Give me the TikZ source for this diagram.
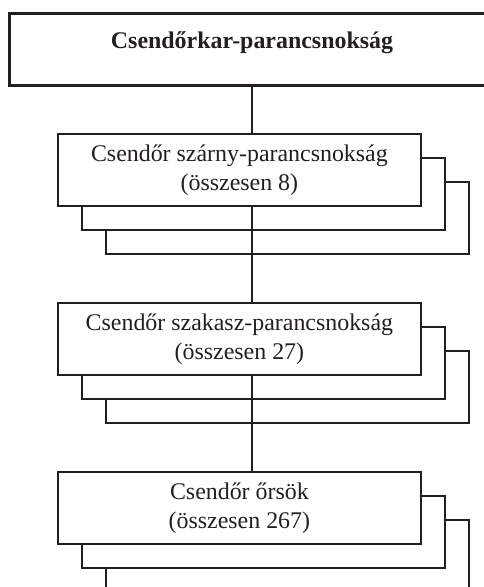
\documentclass[tikz,border=0pt]{standalone}
\usepackage{fontspec}
\setmainfont{Liberation Serif}
\definecolor{ink}{RGB}{35,31,32}
\pgfdeclarelayer{paper}
\pgfdeclarelayer{back}
\pgfdeclarelayer{mid}
\pgfsetlayers{paper,back,mid,main}
\begin{document}
\begin{tikzpicture}[x=1bp,y=-1bp,
  unit/.style={draw=ink, line width=1.8bp, fill=white, minimum width=363bp,
    minimum height=72bp, inner sep=0pt, align=center, anchor=north west,
    text=ink, font=\fontsize{24}{29}\selectfont,
    execute at begin node={\rule{0pt}{26bp}}},
  headbox/.style={draw=ink, line width=3bp, fill=white, minimum width=485bp,
    minimum height=72bp, inner sep=0pt, anchor=north west, text=ink,
    text height=10bp, text depth=12bp, font=\bfseries\fontsize{24}{29}\selectfont},
  link/.style={draw=ink, line width=2bp}]
\useasboundingbox (0,0) rectangle (484,587);
\begin{pgfonlayer}{paper}
  \fill[white] (0,0) rectangle (484,587);
\end{pgfonlayer}

\node[headbox] (top) at (8,12) {Csendőrkar-parancsnokság};

\begin{pgfonlayer}{back}
  \node[unit] (l1c) at (105,181) {};
  \node[unit] (l1b) at (81,157) {};
  \node[unit] (l2c) at (105,350) {};
  \node[unit] (l2b) at (81,326) {};
  \node[unit] (l3c) at (105,519) {};
  \node[unit] (l3b) at (81,495) {};
\end{pgfonlayer}

\node[unit] (l1a) at (57,133) {Csendőr szárny-parancsnokság\\(összesen 8)};
\node[unit] (l2a) at (57,302) {Csendőr szakasz-parancsnokság\\(összesen 27)};
\node[unit] (l3a) at (57,471) {Csendőr őrsök\\(összesen 267)};

\begin{pgfonlayer}{mid}
  \draw[link] (top.south) -- (top.south |- l3a.north);
\end{pgfonlayer}
\end{tikzpicture}
\end{document}
